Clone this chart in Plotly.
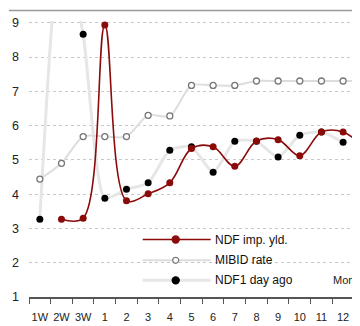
import plotly.graph_objects as go

categories = ["1W", "2W", "3W", "1", "2", "3", "4", "5", "6", "7", "8", "9", "10", "11", "12", "13"]
ndf_imp_yld = [None, 3.27, 3.30, 8.93, 3.81, 4.01, 4.33, 5.33, 5.38, 4.81, 5.55, 5.59, 5.12, 5.81, 5.81, 5.35]
mibid_rate = [4.44, 4.90, 5.68, 5.68, 5.68, 6.30, 6.28, 7.17, 7.17, 7.17, 7.30, 7.30, 7.30, 7.30, 7.30, 7.30]
ndf1_day_ago = [3.27, 11.5, 8.66, 3.88, 4.14, 4.33, 5.28, 5.38, 4.64, 5.54, 5.54, 5.08, 5.72, 5.81, 5.51, None]
series_names = ["NDF imp. yld.", "MIBID rate", "NDF1 day ago"]
axis_note = "Months"

OFF = 8  # page body margin offset
W, H = 360 - OFF, 326 - OFF
ML, MR, MT, MB = 29 - OFF, 0, 21.4 - OFF, 29.4
PW, PH = W - ML - MR, H - MT - MB

def px2x(px):
    return (px - OFF - ML) / PW

def py2y(py):
    return (H - MB - (py - OFF)) / PH

RED = "#8b0a0a"
FONT = "Liberation Sans, Arial"

fig = go.Figure()
fig.add_trace(go.Scatter(
    x=categories, y=ndf1_day_ago, mode="lines+markers", name=series_names[2],
    line=dict(color="#e6e6e6", width=3, shape="spline", smoothing=0.6),
    marker=dict(color="#000000", size=7), connectgaps=False, showlegend=False))
fig.add_trace(go.Scatter(
    x=categories, y=mibid_rate, mode="lines+markers", name=series_names[1],
    line=dict(color="#dddddd", width=2, shape="spline", smoothing=0.8),
    marker=dict(color="#ffffff", size=6, line=dict(color="#777777", width=1.3)),
    showlegend=False))
fig.add_trace(go.Scatter(
    x=categories, y=ndf_imp_yld, mode="lines+markers", name=series_names[0],
    line=dict(color=RED, width=1.6, shape="spline", smoothing=1.0),
    marker=dict(color=RED, size=7), showlegend=False))

shapes = []
shapes.append(dict(type="line", xref="paper", yref="paper", x0=px2x(9), x1=px2x(362),
                   y0=py2y(11), y1=py2y(11), line=dict(color="#9a9a9a", width=1.5)))
shapes.append(dict(type="rect", xref="paper", yref="paper", x0=px2x(133), x1=px2x(305),
                   y0=py2y(229), y1=py2y(291), fillcolor="#ffffff", line=dict(width=0),
                   layer="between"))
leg_y = [239.3, 260, 280]
leg_line = [dict(color=RED, width=1.6), dict(color="#dddddd", width=2), dict(color="#e6e6e6", width=3)]
leg_mark = [(RED, RED, 3.6), ("#ffffff", "#777777", 3.0), ("#000000", "#000000", 3.6)]
annotations = []
for i in range(3):
    shapes.append(dict(type="line", xref="paper", yref="paper", x0=px2x(142.7), x1=px2x(210.7),
                       y0=py2y(leg_y[i]), y1=py2y(leg_y[i]), line=leg_line[i], layer="above"))
    fc, lc, r = leg_mark[i]
    shapes.append(dict(type="circle", xref="paper", yref="paper", xsizemode="pixel", ysizemode="pixel",
                       xanchor=px2x(175.7), yanchor=py2y(leg_y[i]), x0=-r, x1=r, y0=-r, y1=r,
                       fillcolor=fc, line=dict(color=lc, width=1.2), layer="above"))
    annotations.append(dict(text=series_names[i], xref="paper", yref="paper", x=px2x(213),
                            y=py2y(leg_y[i]), xanchor="left", yanchor="middle", showarrow=False,
                            font=dict(family=FONT, size=12, color="#111111")))
annotations.append(dict(text=axis_note, xref="paper", yref="paper", x=px2x(331), y=py2y(280),
                        xanchor="left", yanchor="middle", showarrow=False,
                        font=dict(family=FONT, size=11, color="#222222")))

fig.update_layout(
    width=W, height=H, margin=dict(l=ML, r=MR, t=MT, b=MB, pad=0, autoexpand=False),
    paper_bgcolor="#ffffff", plot_bgcolor="#ffffff",
    shapes=shapes, annotations=annotations, showlegend=False,
    xaxis=dict(type="category", categoryorder="array", categoryarray=categories,
               range=[-0.5, 14.78], showgrid=False, zeroline=False, automargin=False,
               showline=True, linecolor="#555555", linewidth=1.5,
               ticks="outside", tickson="boundaries", ticklen=5, tickcolor="#555555", tickwidth=1.3,
               ticklabelstandoff=9, tickangle=0,
               tickfont=dict(family=FONT, size=11, color="#222222")),
    yaxis=dict(range=[1, 9.05], tickvals=[1, 2, 3, 4, 5, 6, 7, 8, 9], showgrid=True,
               gridcolor="#c8c8c8", griddash="3px,3px", gridwidth=1, zeroline=False,
               showline=False, ticks="", ticklabelstandoff=9, automargin=False,
               tickfont=dict(family=FONT, size=12.5, color="#222222")),
)
fig.write_html("out.html")
